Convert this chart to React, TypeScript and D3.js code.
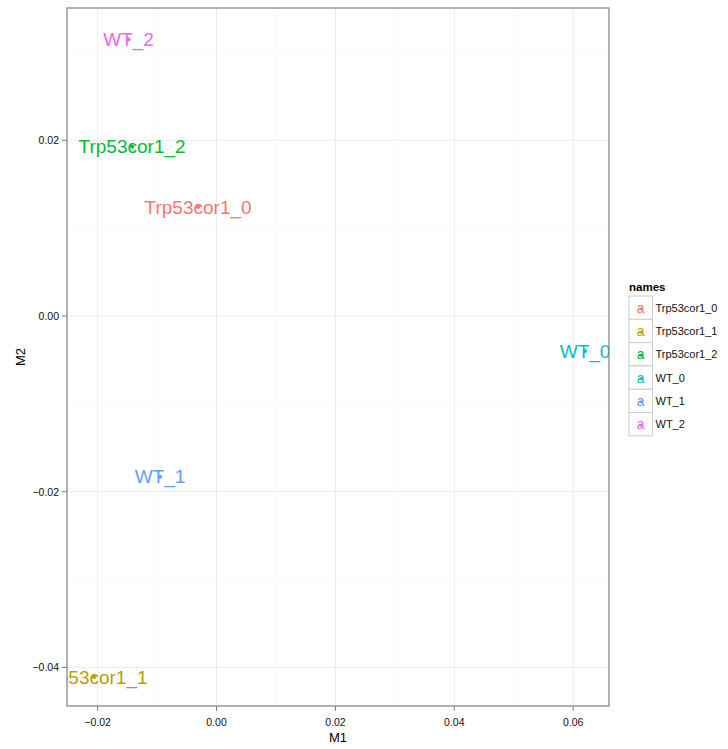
import React from "react";
import * as d3 from "d3";

const names = ["Trp53cor1_0", "Trp53cor1_1", "Trp53cor1_2", "WT_0", "WT_1", "WT_2"];
const m1 = [-0.0031, -0.0206, -0.0142, 0.0620, -0.0095, -0.0148];
const m2 = [0.0124, -0.0411, 0.0193, -0.0040, -0.0183, 0.0315];
const colors = ["#F8766D", "#B79F00", "#00BA38", "#00BFC4", "#619CFF", "#F564E3"];
const xTicks = [-0.02, 0.0, 0.02, 0.04, 0.06];
const yTicks = [-0.04, -0.02, 0.0, 0.02];
const xMinor = [-0.01, 0.01, 0.03, 0.05];
const yMinor = [-0.03, -0.01, 0.01, 0.03];

const W = 728, H = 749;
const P = { left: 67, right: 609, top: 8, bottom: 706 };
const FONT = "'Liberation Sans', Arial, Helvetica, sans-serif";

export default function App() {
  const x = d3.scaleLinear().domain([-0.02515, 0.06602]).range([P.left, P.right]);
  const y = d3.scaleLinear().domain([-0.0444, 0.03506]).range([P.bottom, P.top]);
  const fmt = d3.format(".2f");
  const legendX = 629, legendY0 = 296, keyH = 23.3, keyW = 23.5;
  return (
    <svg width={W} height={H} style={{ position: "absolute", left: 0, top: 0, background: "#fff" }} fontFamily={FONT}>
      <defs>
        <clipPath id="panel">
          <rect x={P.left} y={P.top} width={P.right - P.left} height={P.bottom - P.top} />
        </clipPath>
      </defs>
      <rect x={P.left} y={P.top} width={P.right - P.left} height={P.bottom - P.top} fill="#fff" />
      {xMinor.map((v) => (
        <line key={"xm" + v} x1={x(v)} x2={x(v)} y1={P.top} y2={P.bottom} stroke="#fafafa" strokeWidth={1} />
      ))}
      {yMinor.map((v) => (
        <line key={"ym" + v} y1={y(v)} y2={y(v)} x1={P.left} x2={P.right} stroke="#fafafa" strokeWidth={1} />
      ))}
      {xTicks.map((v) => (
        <line key={"xg" + v} x1={x(v)} x2={x(v)} y1={P.top} y2={P.bottom} stroke="#ebebeb" strokeWidth={1} />
      ))}
      {yTicks.map((v) => (
        <line key={"yg" + v} y1={y(v)} y2={y(v)} x1={P.left} x2={P.right} stroke="#ebebeb" strokeWidth={1} />
      ))}
      <g clipPath="url(#panel)">
        {names.map((n, i) => (
          <g key={n}>
            <circle cx={x(m1[i])} cy={y(m2[i])} r={2} fill={colors[i]} />
            <text x={x(m1[i])} y={y(m2[i])} fill={colors[i]} fontSize={19} textAnchor="middle" dominantBaseline="central">
              {n}
            </text>
          </g>
        ))}
      </g>
      <rect x={P.left} y={P.top} width={P.right - P.left} height={P.bottom - P.top} fill="none" stroke="#7f7f7f" strokeWidth={1.2} />
      {xTicks.map((v) => (
        <g key={"xt" + v}>
          <line x1={x(v)} x2={x(v)} y1={P.bottom} y2={P.bottom + 5} stroke="#7f7f7f" />
          <text x={x(v)} y={P.bottom + 16} fontSize={10.5} textAnchor="middle" dominantBaseline="central" fill="#111">
            {fmt(v)}
          </text>
        </g>
      ))}
      {yTicks.map((v) => (
        <g key={"yt" + v}>
          <line x1={P.left - 5} x2={P.left} y1={y(v)} y2={y(v)} stroke="#7f7f7f" />
          <text x={P.left - 8} y={y(v)} fontSize={10.5} textAnchor="end" dominantBaseline="central" fill="#111">
            {fmt(v)}
          </text>
        </g>
      ))}
      <text x={(P.left + P.right) / 2} y={737} fontSize={13} textAnchor="middle" dominantBaseline="central" fill="#000">
        M1
      </text>
      <text transform={`translate(20,${(P.top + P.bottom) / 2}) rotate(-90)`} fontSize={13} textAnchor="middle" dominantBaseline="central" fill="#000">
        M2
      </text>
      <text x={legendX} y={287} fontSize={11.5} fontWeight="bold" dominantBaseline="central">names</text>
      {names.map((n, i) => {
        const ky = legendY0 + i * keyH;
        return (
          <g key={"lg" + n}>
            <rect x={legendX} y={ky} width={keyW} height={keyH} fill="#fff" stroke="#cccccc" strokeWidth={1} />
            <circle cx={legendX + keyW / 2} cy={ky + keyH / 2 + 1} r={1.5} fill={colors[i]} />
            <text x={legendX + keyW / 2} y={ky + keyH / 2} fontSize={14} fill={colors[i]} textAnchor="middle" dominantBaseline="central">a</text>
            <text x={legendX + keyW + 3} y={ky + keyH / 2} fontSize={11} dominantBaseline="central" fill="#111">{n}</text>
          </g>
        );
      })}
    </svg>
  );
}
